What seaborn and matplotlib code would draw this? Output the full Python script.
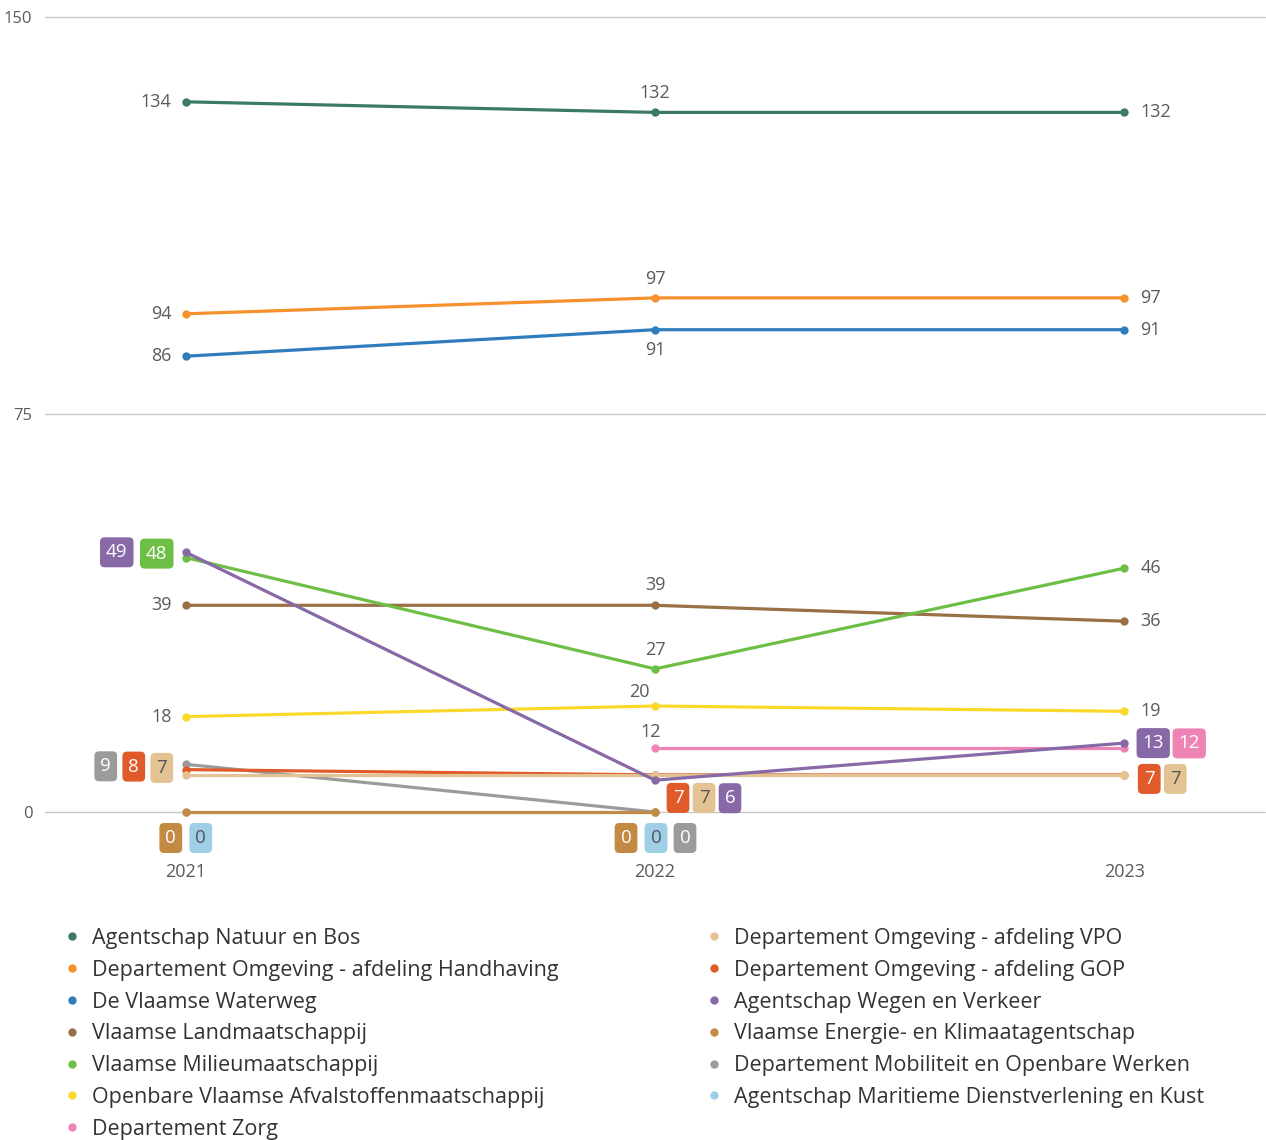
import matplotlib
matplotlib.use("Agg")
import matplotlib.pyplot as plt
from matplotlib.lines import Line2D
import numpy as np
import pandas as pd
import seaborn as sns

years = [2021, 2022, 2023]
series_names = [
    "Agentschap Natuur en Bos",
    "Departement Omgeving - afdeling Handhaving",
    "De Vlaamse Waterweg",
    "Vlaamse Landmaatschappij",
    "Vlaamse Milieumaatschappij",
    "Openbare Vlaamse Afvalstoffenmaatschappij",
    "Departement Zorg",
    "Departement Omgeving - afdeling VPO",
    "Departement Omgeving - afdeling GOP",
    "Agentschap Wegen en Verkeer",
    "Vlaamse Energie- en Klimaatagentschap",
    "Departement Mobiliteit en Openbare Werken",
    "Agentschap Maritieme Dienstverlening en Kust",
]
anb = [134, 132, 132]
handhaving = [94, 97, 97]
waterweg = [86, 91, 91]
vlm = [39, 39, 36]
vmm = [48, 27, 46]
ovam = [18, 20, 19]
zorg = [None, 12, 12]
vpo = [7, 7, 7]
gop = [8, 7, 7]
awv = [49, 6, 13]
veka = [0, 0, None]
mow = [9, 0, None]
mdk = [0, 0, None]
values = [anb, handhaving, waterweg, vlm, vmm, ovam, zorg, vpo, gop, awv, veka, mow, mdk]

colors = ["#3c7a66", "#f7912c", "#2f7dbd", "#9a7146", "#6cbf44", "#fbd82c",
          "#ee84b6", "#e3c393", "#e05a2a", "#8669a6", "#c28a42", "#9b9b9b", "#9fcfe6"]
zorders = [5, 5, 5, 5, 5, 5, 5, 6.6, 6.5, 6.8, 4.9, 4.8, 4.7]
box_text_dark = {"#e3c393", "#9fcfe6"}

rows = []
for name, vals in zip(series_names, values):
    for y, v in zip(years, vals):
        if v is not None:
            rows.append({"series": name, "year": y, "value": v})
df = pd.DataFrame(rows)

# label placement: (series index, year index) -> (dx px, dy px, ha, boxed)
labels = {
    (0, 0): (-14, 0, "right", False), (0, 1): (0, 19, "center", False), (0, 2): (16, 0, "left", False),
    (1, 0): (-14, 0, "right", False), (1, 1): (0, 19, "center", False), (1, 2): (16, 0, "left", False),
    (2, 0): (-14, 0, "right", False), (2, 1): (0, -20, "center", False), (2, 2): (16, 0, "left", False),
    (3, 0): (-14, 0, "right", False), (3, 1): (0, 20, "center", False), (3, 2): (16, 0, "left", False),
    (4, 0): (-29, 4, "center", True), (4, 1): (0, 19, "center", False), (4, 2): (16, 0, "left", False),
    (5, 0): (-14, 0, "right", False), (5, 1): (-16, 14, "center", False), (5, 2): (16, 0, "left", False),
    (6, 1): (-4, 16, "center", False), (6, 2): (65, 5, "center", True),
    (7, 0): (-24, 7, "center", True), (7, 1): (49, -23, "center", True), (7, 2): (51, -4, "center", True),
    (8, 0): (-52, 3, "center", True), (8, 1): (23, -23, "center", True), (8, 2): (25, -4, "center", True),
    (9, 0): (-69, 0, "center", True), (9, 1): (75, -18, "center", True), (9, 2): (29, 0, "center", True),
    (10, 0): (-15, -26, "center", True), (10, 1): (-29, -26, "center", True),
    (11, 0): (-80, -2, "center", True), (11, 1): (30, -26, "center", True),
    (12, 0): (15, -26, "center", True), (12, 1): (1, -26, "center", True),
}

sns.set_theme(style="white")
FONT = ["Open Sans", "DejaVu Sans"]
plt.rcParams["font.family"] = FONT

fig = plt.figure(figsize=(12.66, 11.40), dpi=100)
ax = fig.add_axes([45 / 1266, (1140 - 812) / 1140, 1220 / 1266, 795 / 1140])

for i, name in enumerate(series_names):
    sub = df[df["series"] == name]
    sns.lineplot(data=sub, x="year", y="value", ax=ax, color=colors[i], linewidth=2.3,
                 marker="o", markersize=6, markeredgewidth=0, legend=False,
                 zorder=zorders[i])
for line in ax.lines:
    line.set_clip_on(False)

ax.set_xlim(2020.70, 2023.30)
ax.set_ylim(0, 150)
ax.set_yticks([0, 75, 150])
ax.set_xticks(years)
ax.set_xticklabels([str(y) for y in years])
ax.grid(axis="y", color="#c8c8c8", linewidth=1)
ax.grid(axis="x", visible=False)
ax.set_axisbelow(True)
for gl in ax.get_ygridlines():
    gl.set_clip_on(False)
for s in ax.spines.values():
    s.set_visible(False)
ax.set_xlabel("")
ax.set_ylabel("")
ax.tick_params(axis="y", length=0, pad=9, labelsize=12, labelcolor="#5a5a5a")
ax.tick_params(axis="x", length=0, pad=37, labelsize=13, labelcolor="#5a5a5a")

for (si, yi), (dx, dy, ha, boxed) in labels.items():
    v = values[si][yi]
    if v is None:
        continue
    if boxed:
        tc = "#555555" if colors[si] in box_text_dark else "white"
        ax.annotate(str(v), (years[yi], v), xytext=(dx, dy), textcoords="offset pixels",
                    ha="center", va="center", fontsize=13.5, color=tc,
                    bbox=dict(boxstyle="round,pad=0.32,rounding_size=0.25", fc=colors[si], ec="none"),
                    annotation_clip=False, zorder=10)
    else:
        ax.annotate(str(v), (years[yi], v), xytext=(dx, dy), textcoords="offset pixels",
                    ha=ha, va="center", fontsize=13, color="#5a5a5a",
                    annotation_clip=False, zorder=10)

handles = [Line2D([], [], linestyle="none", marker="o", markersize=6, markeredgewidth=0,
                  color=c) for c in colors]
kw = dict(frameon=False, fontsize=15.5, handlelength=0.6, handletextpad=0.6,
          labelspacing=0.5, labelcolor="#333333", borderaxespad=0, borderpad=0)
leg1 = fig.legend(handles[:7], series_names[:7], loc="upper left",
                  bbox_to_anchor=(66 / 1266, 1 - 928 / 1140), **kw)
leg2 = fig.legend(handles[7:], series_names[7:], loc="upper left",
                  bbox_to_anchor=(708 / 1266, 1 - 928 / 1140), **kw)

fig.savefig("out.png", dpi=100)
